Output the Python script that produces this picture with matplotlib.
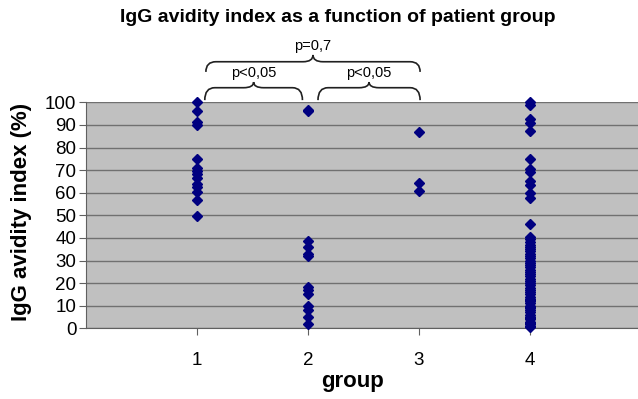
import matplotlib
matplotlib.use("Agg")
import matplotlib.pyplot as plt
from matplotlib.path import Path
from matplotlib.patches import PathPatch
import numpy as np

plt.rcParams["font.family"] = ["Liberation Sans", "DejaVu Sans"]

# values
group1 = [100, 96, 91.5, 90, 75, 71, 69.5, 68.5, 66.5, 64, 62.5, 60.5, 57, 49.5]
group2 = [96.5, 96, 38.5, 36, 33, 32, 18.5, 17, 15, 10, 8, 5, 2]
group3 = [87, 64.5, 61]
group4 = [100, 99, 92.5, 91, 87.5, 75, 70.5, 69, 65, 63.5, 60, 57.5, 46,
          40.5, 39.5, 38, 37, 36, 35, 34, 33, 32, 31, 30, 29, 28, 27, 26,
          25, 24, 23, 22, 21, 20, 19, 18, 17, 16, 15, 14, 13, 12.5, 12,
          11, 10, 9.5, 9, 8, 7, 6, 5, 4.5, 4, 3, 2.5, 2, 1, 0.5]
groups = [group1, group2, group3, group4]
yticks = [0, 10, 20, 30, 40, 50, 60, 70, 80, 90, 100]
xticks = [1, 2, 3, 4]

# brackets: (x_start, x_end, label)
lower_brackets = [(1.07, 1.95, "p<0,05"), (2.09, 3.01, "p<0,05")]
upper_bracket = (1.08, 3.01, "p=0,7")

W, H = 638, 399
fig = plt.figure(figsize=(W / 100, H / 100), dpi=100)
ax = fig.add_axes([86 / W, (H - 328.3) / H, (641 - 86) / W, (328.3 - 102.4) / H])
ax.set_facecolor("#c0c0c0")

for i, g in enumerate(groups):
    ax.plot([xticks[i]] * len(g), g, linestyle="none", marker="D",
            ms=4.8, color="#000080", clip_on=False, zorder=3)

ax.set_xlim(0, 5)
ax.set_ylim(0, 100)
ax.set_yticks(yticks)
ax.set_xticks(xticks)
ax.yaxis.grid(True, color="#707070", lw=1)
ax.set_axisbelow(True)
for s in ["top", "right"]:
    ax.spines[s].set_visible(False)
for s in ["left", "bottom"]:
    ax.spines[s].set_color("#606060")
ax.tick_params(axis="both", direction="out", length=5, color="#606060",
               labelsize=13.5, pad=2)
ax.tick_params(axis="x", pad=12)


def brace(x0, x1, yb, yt, ytip, w=0.09):
    xm = (x0 + x1) / 2
    verts = [(x0, yb), (x0, yt), (x0 + w, yt),
             (xm - w, yt), (xm, yt), (xm, ytip),
             (xm, yt), (xm + w, yt),
             (x1 - w, yt), (x1, yt), (x1, yb)]
    codes = [Path.MOVETO, Path.CURVE3, Path.CURVE3,
             Path.LINETO, Path.CURVE3, Path.CURVE3,
             Path.CURVE3, Path.CURVE3,
             Path.LINETO, Path.CURVE3, Path.CURVE3]
    p = PathPatch(Path(verts, codes), fill=False, lw=1.2, color="#202020",
                  clip_on=False, transform=ax.transData)
    ax.add_patch(p)
    return xm


for x0, x1, lab in lower_brackets:
    xm = brace(x0, x1, 101, 106.5, 109)
    ax.text(xm, 110, lab, ha="center", va="bottom", fontsize=10.5)

x0, x1, lab = upper_bracket
xm = brace(x0, x1, 113.5, 118, 121)
ax.text(xm, 122, lab, ha="center", va="bottom", fontsize=10.5)

fig.text(338 / W, 1 - 18 / H, "IgG avidity index as a function of patient group",
         ha="center", va="center", fontsize=14, fontweight="bold")
fig.text(22 / W, 1 - 212 / H, "IgG avidity index (%)", rotation=90,
         ha="center", va="center", fontsize=16, fontweight="bold")
fig.text(352 / W, 1 - 381 / H, "group", ha="center", va="center",
         fontsize=16, fontweight="bold")

fig.savefig("out.png", dpi=100)
